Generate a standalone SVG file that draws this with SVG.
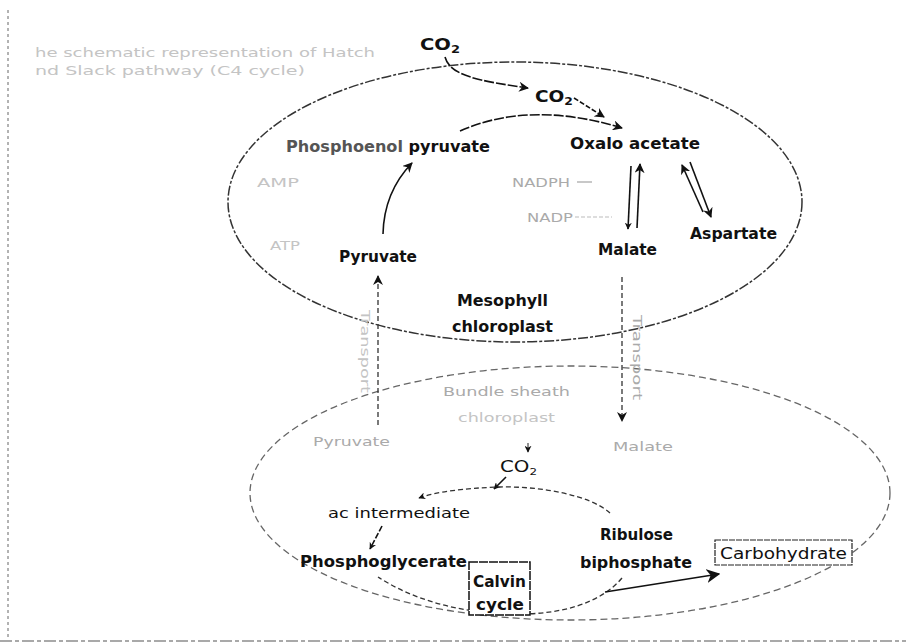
<svg xmlns="http://www.w3.org/2000/svg" width="906" height="644" viewBox="0 0 906 644">
<defs>
<marker id="ah" viewBox="0 0 10 10" refX="9" refY="5" markerWidth="7" markerHeight="7" orient="auto-start-reverse" markerUnits="userSpaceOnUse">
<path d="M0,0 L10,5 L0,10 L3,5 z" fill="#111"/>
</marker>
<marker id="ahb" viewBox="0 0 10 10" refX="9" refY="5" markerWidth="14" markerHeight="14" orient="auto-start-reverse" markerUnits="userSpaceOnUse">
<path d="M0,0 L10,5 L0,10 L3,5 z" fill="#111"/>
</marker>
<marker id="ahm" viewBox="0 0 10 10" refX="9" refY="5" markerWidth="10" markerHeight="10" orient="auto-start-reverse" markerUnits="userSpaceOnUse">
<path d="M0,0 L10,5 L0,10 L3,5 z" fill="#111"/>
</marker>
</defs>
<style>
text{font-family:"DejaVu Sans","Liberation Sans",sans-serif;fill:#111}
.b{font-weight:bold;font-size:15px}
.m{font-size:15px;font-weight:600}
.f{fill:#aaa;font-size:13px}
.ff{fill:#c4c4c4;font-size:12px}
.c{fill:none;stroke:#111;stroke-width:1.6}
.d{fill:none;stroke:#333;stroke-width:1.3;stroke-dasharray:5 3}
.cell{fill:none;stroke:#333;stroke-width:1.5;stroke-dasharray:10 2 3 2}
.cell2{fill:none;stroke:#666;stroke-width:1.3;stroke-dasharray:7 4}
</style>
<rect width="906" height="644" fill="#fff"/>
<g id="frame">
<line x1="8" y1="10" x2="8" y2="640" stroke="#666" stroke-width="1" stroke-dasharray="3 3"/>
<line x1="0" y1="641" x2="906" y2="641" stroke="#555" stroke-width="1.2" stroke-dasharray="12 3 4 3"/>
</g>
<g id="caption">
<text x="35" y="57" class="ff" textLength="340" lengthAdjust="spacingAndGlyphs">he schematic representation of Hatch</text>
<text x="35" y="75" class="ff" textLength="270" lengthAdjust="spacingAndGlyphs">nd Slack pathway (C4 cycle)</text>
</g>
<g id="mesophyll">
<ellipse cx="515" cy="202" rx="287" ry="140" class="cell"/>
<text x="457" y="306" class="b" textLength="91" lengthAdjust="spacingAndGlyphs">Mesophyll</text>
<text x="452" y="332" class="b" textLength="101" lengthAdjust="spacingAndGlyphs">chloroplast</text>
</g>
<g id="bundle-sheath">
<ellipse cx="570" cy="493" rx="320" ry="127" class="cell2"/>
<text x="443" y="396" class="f" font-size="14" textLength="127" lengthAdjust="spacingAndGlyphs">Bundle sheath</text>
<text x="458" y="422" class="ff" textLength="97" lengthAdjust="spacingAndGlyphs">chloroplast</text>
</g>
<g id="co2-outer"><text x="420" y="50" class="b" font-size="17" textLength="40" lengthAdjust="spacingAndGlyphs">CO<tspan font-size="10" dy="3">2</tspan></text></g>
<g id="co2-inner"><text x="535" y="102" class="b" textLength="38" lengthAdjust="spacingAndGlyphs">CO<tspan font-size="10" dy="3">2</tspan></text></g>
<g id="oxaloacetate"><text x="570" y="149" class="m" textLength="130" lengthAdjust="spacingAndGlyphs">Oxalo acetate</text></g>
<g id="pep"><text x="286" y="152" class="m" textLength="204" lengthAdjust="spacingAndGlyphs"><tspan fill="#555">Phosphoenol</tspan> pyruvate</text></g>
<g id="pyruvate-m"><text x="339" y="262" class="b" font-size="14" textLength="78" lengthAdjust="spacingAndGlyphs">Pyruvate</text></g>
<g id="amp"><text x="257" y="187" class="ff" textLength="42" lengthAdjust="spacingAndGlyphs">AMP</text></g>
<g id="atp"><text x="270" y="250" class="ff" textLength="30" lengthAdjust="spacingAndGlyphs">ATP</text></g>
<g id="nadph"><text x="512" y="187" class="f" font-size="12" textLength="58" lengthAdjust="spacingAndGlyphs">NADPH</text></g>
<g id="nadp"><text x="527" y="222" class="f" font-size="12" textLength="46" lengthAdjust="spacingAndGlyphs">NADP</text></g>
<g id="malate-m"><text x="598" y="255" class="b" font-size="14" textLength="59" lengthAdjust="spacingAndGlyphs">Malate</text></g>
<g id="aspartate"><text x="690" y="239" class="m" font-size="14" textLength="87" lengthAdjust="spacingAndGlyphs">Aspartate</text></g>
<g id="transport-left"><text x="0" y="0" class="ff" font-size="11" transform="translate(361,310) rotate(90)" textLength="83" lengthAdjust="spacingAndGlyphs">Transport</text></g>
<g id="transport-right"><text x="0" y="0" class="f" font-size="11" transform="translate(633,315) rotate(90)" textLength="85" lengthAdjust="spacingAndGlyphs">Transport</text></g>
<g id="pyruvate-b"><text x="313" y="446" class="f" font-size="14" textLength="77" lengthAdjust="spacingAndGlyphs">Pyruvate</text></g>
<g id="malate-b"><text x="613" y="451" class="f" font-size="14" textLength="60" lengthAdjust="spacingAndGlyphs">Malate</text></g>
<g id="co2-bs"><text x="500" y="472" font-size="15" fill="#333" textLength="37" lengthAdjust="spacingAndGlyphs">CO<tspan font-size="9" dy="3">2</tspan></text></g>
<g id="intermediate"><text x="328" y="518" font-size="14" textLength="142" lengthAdjust="spacingAndGlyphs">ac intermediate</text></g>
<g id="phosphoglycerate"><text x="300" y="567" class="m" textLength="167" lengthAdjust="spacingAndGlyphs">Phosphoglycerate</text></g>
<g id="ribulose"><text x="600" y="540" class="m" font-size="14" textLength="73" lengthAdjust="spacingAndGlyphs">Ribulose</text><text x="580" y="568" class="m" font-size="14" textLength="112" lengthAdjust="spacingAndGlyphs">biphosphate</text></g>
<g id="connectors">
<path d="M445,57 C450,76 480,81 528,88" class="c" stroke-dasharray="10 2" marker-end="url(#ahm)"/>
<path d="M574,98 L604,117" class="c" stroke-dasharray="5 2" marker-end="url(#ahm)"/>
<path d="M460,131 Q530,100 622,128" class="c" stroke-dasharray="10 2" marker-end="url(#ahm)"/>
<path d="M383,234 Q384,192 412,163" class="c" marker-end="url(#ahm)"/>
<line x1="577" y1="182" x2="592" y2="182" stroke="#aaa" stroke-width="1.3"/>
<line x1="575" y1="217" x2="612" y2="217" stroke="#bbb" stroke-width="1.2" stroke-dasharray="4 2"/>
<path d="M631,166 L628,229" class="c" marker-end="url(#ah)"/>
<path d="M637,228 L640,164" class="c" marker-end="url(#ahm)"/>
<path d="M703,212 L682,165" class="c" marker-end="url(#ahm)"/>
<path d="M690,162 L711,217" class="c" marker-end="url(#ahm)"/>
<path d="M378,425 L378,276" class="d" stroke="#555" marker-end="url(#ahm)"/>
<path d="M622,277 L622,421" class="d" stroke="#555" marker-end="url(#ahm)"/>
<path d="M528,443 L528,452" stroke="#222" stroke-width="1" marker-end="url(#ah)"/>
<path d="M506,477 L494,489" class="c" stroke-width="1.2" marker-end="url(#ah)"/>
<path d="M610,513 C590,495 540,486 500,487 C465,488 435,492 419,498" class="d" marker-end="url(#ah)"/>
<path d="M382,526 L370,549" class="c" stroke-width="1.3" stroke-dasharray="6 2" marker-end="url(#ah)"/>
<path d="M622,578 C600,604 560,614 520,614 C470,614 420,604 378,577" class="d" stroke-dasharray="8 5"/>
<path d="M605,592 L719,574" class="c" stroke-width="2.2" marker-end="url(#ahb)"/>
</g>
<g id="calvin-cycle">
<rect x="469" y="562" width="61" height="53" fill="#fff" stroke="#111" stroke-width="1.5" stroke-dasharray="9 1"/>
<text x="473" y="587" class="b" textLength="53" lengthAdjust="spacingAndGlyphs">Calvin</text>
<text x="476" y="610" class="b" textLength="48" lengthAdjust="spacingAndGlyphs">cycle</text>
</g>
<g id="carbohydrate">
<rect x="715" y="540" width="137" height="25" fill="#fff" stroke="#222" stroke-width="1.2" stroke-dasharray="6 1"/>
<text x="720" y="559" font-size="15" textLength="127" lengthAdjust="spacingAndGlyphs">Carbohydrate</text>
</g>
</svg>
